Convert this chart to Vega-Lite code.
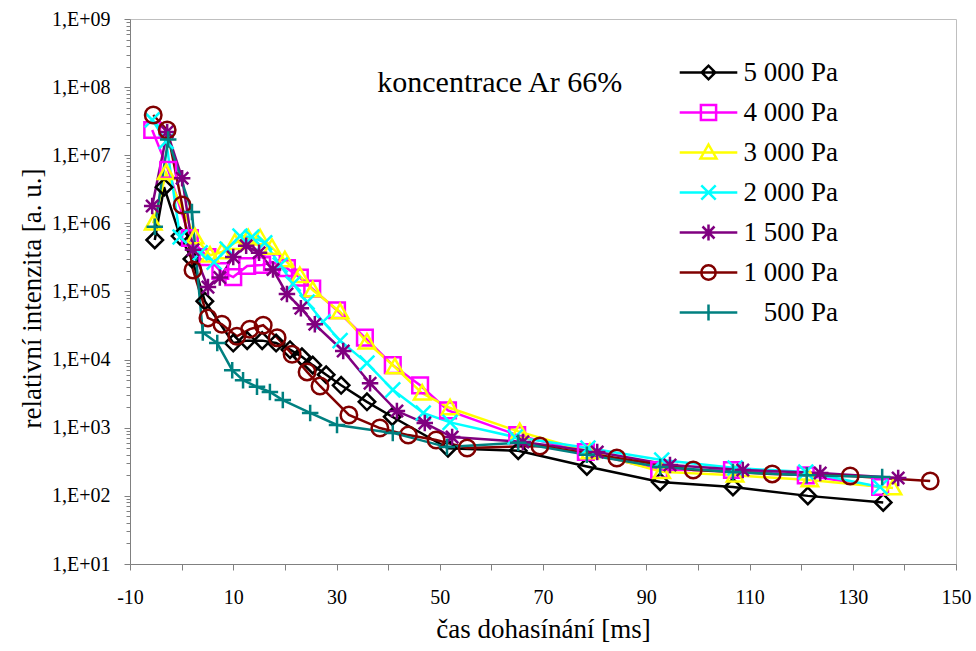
{
  "$schema": "https://vega.github.io/schema/vega-lite/v6.json",
  "width": 826,
  "height": 545,
  "autosize": {"type": "none"},
  "padding": {"left": 130, "top": 19, "right": 20, "bottom": 87},
  "background": "white",
  "config": {
    "font": "Liberation Serif",
    "view": {"stroke": "#bfbfbf", "strokeWidth": 1},
    "axis": {"grid": false, "domainColor": "#808080", "tickColor": "#808080", "labelColor": "#000000", "titleColor": "#000000", "labelFont": "Liberation Serif", "titleFont": "Liberation Serif", "titleFontWeight": "normal"}
  },
  "datasets": {
    "d": [
      {"s": "5 000 Pa", "t": -5.2, "i": 570000},
      {"s": "5 000 Pa", "t": -3.4, "i": 3400000},
      {"s": "5 000 Pa", "t": -0.3, "i": 650000},
      {"s": "5 000 Pa", "t": 2.0, "i": 300000},
      {"s": "5 000 Pa", "t": 4.5, "i": 72000},
      {"s": "5 000 Pa", "t": 10.0, "i": 17500},
      {"s": "5 000 Pa", "t": 12.7, "i": 19000},
      {"s": "5 000 Pa", "t": 15.6, "i": 19000},
      {"s": "5 000 Pa", "t": 18.3, "i": 17500},
      {"s": "5 000 Pa", "t": 21.0, "i": 14000},
      {"s": "5 000 Pa", "t": 23.3, "i": 11000},
      {"s": "5 000 Pa", "t": 25.4, "i": 8300},
      {"s": "5 000 Pa", "t": 28.0, "i": 6000},
      {"s": "5 000 Pa", "t": 30.9, "i": 4200},
      {"s": "5 000 Pa", "t": 35.9, "i": 2400},
      {"s": "5 000 Pa", "t": 40.8, "i": 1450},
      {"s": "5 000 Pa", "t": 51.6, "i": 500},
      {"s": "5 000 Pa", "t": 65.2, "i": 460},
      {"s": "5 000 Pa", "t": 78.5, "i": 270},
      {"s": "5 000 Pa", "t": 92.7, "i": 160},
      {"s": "5 000 Pa", "t": 106.8, "i": 135},
      {"s": "5 000 Pa", "t": 121.3, "i": 100},
      {"s": "5 000 Pa", "t": 135.9, "i": 80},
      {"s": "4 000 Pa", "t": -5.7, "i": 23500000},
      {"s": "4 000 Pa", "t": -2.6, "i": 6100000},
      {"s": "4 000 Pa", "t": 1.6, "i": 610000},
      {"s": "4 000 Pa", "t": 5.0, "i": 320000},
      {"s": "4 000 Pa", "t": 7.5, "i": 200000},
      {"s": "4 000 Pa", "t": 10.0, "i": 163000},
      {"s": "4 000 Pa", "t": 12.7, "i": 237000},
      {"s": "4 000 Pa", "t": 15.6, "i": 245000},
      {"s": "4 000 Pa", "t": 17.5, "i": 270000},
      {"s": "4 000 Pa", "t": 20.4, "i": 220000},
      {"s": "4 000 Pa", "t": 22.9, "i": 160000},
      {"s": "4 000 Pa", "t": 25.3, "i": 110000},
      {"s": "4 000 Pa", "t": 30.1, "i": 53000},
      {"s": "4 000 Pa", "t": 35.5, "i": 21000},
      {"s": "4 000 Pa", "t": 40.9, "i": 8300},
      {"s": "4 000 Pa", "t": 46.2, "i": 4200},
      {"s": "4 000 Pa", "t": 51.6, "i": 1800},
      {"s": "4 000 Pa", "t": 65.0, "i": 780},
      {"s": "4 000 Pa", "t": 78.3, "i": 440},
      {"s": "4 000 Pa", "t": 92.5, "i": 240},
      {"s": "4 000 Pa", "t": 106.6, "i": 240},
      {"s": "4 000 Pa", "t": 120.9, "i": 200},
      {"s": "4 000 Pa", "t": 135.3, "i": 135},
      {"s": "3 000 Pa", "t": -5.5, "i": 1000000},
      {"s": "3 000 Pa", "t": -3.0, "i": 5500000},
      {"s": "3 000 Pa", "t": 2.6, "i": 630000},
      {"s": "3 000 Pa", "t": 5.5, "i": 340000},
      {"s": "3 000 Pa", "t": 7.8, "i": 380000},
      {"s": "3 000 Pa", "t": 10.3, "i": 520000},
      {"s": "3 000 Pa", "t": 12.9, "i": 610000},
      {"s": "3 000 Pa", "t": 15.2, "i": 610000},
      {"s": "3 000 Pa", "t": 17.5, "i": 440000},
      {"s": "3 000 Pa", "t": 20.0, "i": 290000},
      {"s": "3 000 Pa", "t": 22.9, "i": 170000},
      {"s": "3 000 Pa", "t": 25.4, "i": 105000},
      {"s": "3 000 Pa", "t": 30.7, "i": 50000},
      {"s": "3 000 Pa", "t": 35.9, "i": 18000},
      {"s": "3 000 Pa", "t": 41.3, "i": 7800},
      {"s": "3 000 Pa", "t": 46.6, "i": 3200},
      {"s": "3 000 Pa", "t": 52.0, "i": 1950},
      {"s": "3 000 Pa", "t": 65.5, "i": 870},
      {"s": "3 000 Pa", "t": 79.1, "i": 440},
      {"s": "3 000 Pa", "t": 93.0, "i": 225},
      {"s": "3 000 Pa", "t": 107.2, "i": 200},
      {"s": "3 000 Pa", "t": 121.7, "i": 171},
      {"s": "3 000 Pa", "t": 137.8, "i": 130},
      {"s": "2 000 Pa", "t": -5.7, "i": 33000000},
      {"s": "2 000 Pa", "t": -3.0, "i": 16000000},
      {"s": "2 000 Pa", "t": -0.3, "i": 630000},
      {"s": "2 000 Pa", "t": 3.6, "i": 370000},
      {"s": "2 000 Pa", "t": 6.3, "i": 270000},
      {"s": "2 000 Pa", "t": 8.8, "i": 420000},
      {"s": "2 000 Pa", "t": 11.3, "i": 650000},
      {"s": "2 000 Pa", "t": 13.6, "i": 630000},
      {"s": "2 000 Pa", "t": 16.1, "i": 520000},
      {"s": "2 000 Pa", "t": 19.1, "i": 245000},
      {"s": "2 000 Pa", "t": 21.6, "i": 130000},
      {"s": "2 000 Pa", "t": 24.3, "i": 70000},
      {"s": "2 000 Pa", "t": 27.4, "i": 36000},
      {"s": "2 000 Pa", "t": 30.7, "i": 19000},
      {"s": "2 000 Pa", "t": 35.9, "i": 8900},
      {"s": "2 000 Pa", "t": 40.9, "i": 3600},
      {"s": "2 000 Pa", "t": 46.8, "i": 1650},
      {"s": "2 000 Pa", "t": 52.0, "i": 1200},
      {"s": "2 000 Pa", "t": 64.6, "i": 730},
      {"s": "2 000 Pa", "t": 78.7, "i": 505},
      {"s": "2 000 Pa", "t": 93.0, "i": 336},
      {"s": "2 000 Pa", "t": 107.2, "i": 256},
      {"s": "2 000 Pa", "t": 120.9, "i": 224},
      {"s": "2 000 Pa", "t": 135.3, "i": 135},
      {"s": "1 500 Pa", "t": -5.7, "i": 1800000},
      {"s": "1 500 Pa", "t": -2.8, "i": 22000000},
      {"s": "1 500 Pa", "t": 0.1, "i": 4600000},
      {"s": "1 500 Pa", "t": 2.2, "i": 410000},
      {"s": "1 500 Pa", "t": 5.1, "i": 116000},
      {"s": "1 500 Pa", "t": 7.4, "i": 160000},
      {"s": "1 500 Pa", "t": 10.0, "i": 320000},
      {"s": "1 500 Pa", "t": 12.5, "i": 470000},
      {"s": "1 500 Pa", "t": 15.0, "i": 370000},
      {"s": "1 500 Pa", "t": 17.7, "i": 210000},
      {"s": "1 500 Pa", "t": 20.4, "i": 92000},
      {"s": "1 500 Pa", "t": 23.1, "i": 57000},
      {"s": "1 500 Pa", "t": 25.8, "i": 33000},
      {"s": "1 500 Pa", "t": 31.3, "i": 13400},
      {"s": "1 500 Pa", "t": 36.5, "i": 4500},
      {"s": "1 500 Pa", "t": 41.7, "i": 1760},
      {"s": "1 500 Pa", "t": 47.1, "i": 1170},
      {"s": "1 500 Pa", "t": 52.4, "i": 730},
      {"s": "1 500 Pa", "t": 66.1, "i": 620},
      {"s": "1 500 Pa", "t": 80.5, "i": 440},
      {"s": "1 500 Pa", "t": 94.6, "i": 284},
      {"s": "1 500 Pa", "t": 108.7, "i": 240},
      {"s": "1 500 Pa", "t": 123.7, "i": 217},
      {"s": "1 500 Pa", "t": 138.8, "i": 183},
      {"s": "1 000 Pa", "t": -5.5, "i": 39000000},
      {"s": "1 000 Pa", "t": -2.8, "i": 23500000},
      {"s": "1 000 Pa", "t": 0.1, "i": 1860000},
      {"s": "1 000 Pa", "t": 2.2, "i": 207000},
      {"s": "1 000 Pa", "t": 5.1, "i": 41000},
      {"s": "1 000 Pa", "t": 7.8, "i": 33000},
      {"s": "1 000 Pa", "t": 10.7, "i": 22000},
      {"s": "1 000 Pa", "t": 13.2, "i": 28000},
      {"s": "1 000 Pa", "t": 15.8, "i": 32000},
      {"s": "1 000 Pa", "t": 18.5, "i": 21000},
      {"s": "1 000 Pa", "t": 21.4, "i": 12000},
      {"s": "1 000 Pa", "t": 24.3, "i": 6600},
      {"s": "1 000 Pa", "t": 26.8, "i": 4100},
      {"s": "1 000 Pa", "t": 32.4, "i": 1540},
      {"s": "1 000 Pa", "t": 38.4, "i": 990},
      {"s": "1 000 Pa", "t": 43.9, "i": 780},
      {"s": "1 000 Pa", "t": 49.3, "i": 660},
      {"s": "1 000 Pa", "t": 55.3, "i": 505},
      {"s": "1 000 Pa", "t": 69.4, "i": 540},
      {"s": "1 000 Pa", "t": 84.3, "i": 360},
      {"s": "1 000 Pa", "t": 99.1, "i": 240},
      {"s": "1 000 Pa", "t": 114.4, "i": 210},
      {"s": "1 000 Pa", "t": 129.5, "i": 196},
      {"s": "1 000 Pa", "t": 145.0, "i": 165},
      {"s": "500 Pa", "t": -5.2, "i": 890000},
      {"s": "500 Pa", "t": -2.6, "i": 17000000},
      {"s": "500 Pa", "t": 2.0, "i": 1470000},
      {"s": "500 Pa", "t": 4.1, "i": 25000},
      {"s": "500 Pa", "t": 6.9, "i": 17500},
      {"s": "500 Pa", "t": 9.8, "i": 7000},
      {"s": "500 Pa", "t": 11.9, "i": 5000},
      {"s": "500 Pa", "t": 14.6, "i": 4000},
      {"s": "500 Pa", "t": 17.1, "i": 3350},
      {"s": "500 Pa", "t": 19.6, "i": 2550},
      {"s": "500 Pa", "t": 24.9, "i": 1650},
      {"s": "500 Pa", "t": 30.1, "i": 1100},
      {"s": "500 Pa", "t": 40.9, "i": 840},
      {"s": "500 Pa", "t": 51.4, "i": 520},
      {"s": "500 Pa", "t": 65.2, "i": 600},
      {"s": "500 Pa", "t": 78.5, "i": 400},
      {"s": "500 Pa", "t": 92.7, "i": 265},
      {"s": "500 Pa", "t": 106.8, "i": 224},
      {"s": "500 Pa", "t": 121.1, "i": 200},
      {"s": "500 Pa", "t": 135.7, "i": 190}
    ]
  },
  "encoding": {
    "x": {
      "field": "t", "type": "quantitative",
      "scale": {"domain": [-10, 150], "nice": false, "zero": false},
      "axis": {
        "orient": "bottom",
        "values": [-10, 0, 10, 20, 30, 40, 50, 60, 70, 80, 90, 100, 110, 120, 130, 140, 150],
        "labelExpr": "(datum.value + 10) % 20 == 0 ? '' + datum.value : ''",
        "labelFontSize": 20, "tickSize": 6, "labelPadding": 17, "labelOverlap": false, "labelFlush": false,
        "title": "čas dohasínání [ms]", "titleFontSize": 27, "titleBaseline": "alphabetic", "titleY": 73
      }
    },
    "y": {
      "field": "i", "type": "quantitative",
      "scale": {"type": "log", "domain": [10, 1000000000], "nice": false},
      "axis": {
        "orient": "left",
        "values": [10,20,30,40,50,60,70,80,90,100,200,300,400,500,600,700,800,900,1000,2000,3000,4000,5000,6000,7000,8000,9000,10000,20000,30000,40000,50000,60000,70000,80000,90000,100000,200000,300000,400000,500000,600000,700000,800000,900000,1000000,2000000,3000000,4000000,5000000,6000000,7000000,8000000,9000000,10000000,20000000,30000000,40000000,50000000,60000000,70000000,80000000,90000000,100000000,200000000,300000000,400000000,500000000,600000000,700000000,800000000,900000000,1000000000],
        "labelExpr": "abs(log(datum.value) / LN10 - round(log(datum.value) / LN10)) < 0.01 ? '1,E+0' + round(log(datum.value) / LN10) : ''",
        "tickSize": {"condition": {"test": "abs(log(datum.value) / LN10 - round(log(datum.value) / LN10)) < 0.01", "value": 6}, "value": 4},
        "labelFontSize": 20, "labelPadding": 14, "labelOverlap": false, "labelFlush": false,
        "title": "relativní intenzita [a. u.]", "titleFontSize": 27, "titleAngle": -90,
        "titleX": -90, "titleY": 279, "titleAlign": "center", "titleBaseline": "alphabetic"
      }
    }
  },
  "layer": [
    {
      "data": {"name": "d"},
      "mark": {"type": "line", "strokeWidth": 2.5},
      "encoding": {
        "color": {
          "field": "s", "type": "nominal",
          "scale": {
            "domain": ["5 000 Pa", "4 000 Pa", "3 000 Pa", "2 000 Pa", "1 500 Pa", "1 000 Pa", "500 Pa"],
            "range": ["#000000", "#ff00ff", "#ffff00", "#00ffff", "#800080", "#800000", "#008080"]
          },
          "legend": null
        }
      }
    },
    {
      "data": {"name": "d"},
      "mark": {"type": "point", "filled": false, "strokeWidth": 2.5, "size": 272, "opacity": 1},
      "encoding": {
        "color": {
          "field": "s", "type": "nominal",
          "scale": {
            "domain": ["5 000 Pa", "4 000 Pa", "3 000 Pa", "2 000 Pa", "1 500 Pa", "1 000 Pa", "500 Pa"],
            "range": ["#000000", "#ff00ff", "#ffff00", "#00ffff", "#800080", "#800000", "#008080"]
          },
          "legend": null
        },
        "shape": {
          "field": "s", "type": "nominal",
          "scale": {
            "domain": ["5 000 Pa", "4 000 Pa", "3 000 Pa", "2 000 Pa", "1 500 Pa", "1 000 Pa", "500 Pa"],
            "range": [
              "M-1,0L0,-1L1,0L0,1Z",
              "M-0.95,-0.95H0.95V0.95H-0.95Z",
              "M0,-1L1,0.75H-1Z",
              "M-0.9,-0.9L0.9,0.9M-0.9,0.9L0.9,-0.9",
              "M-1,0H1M0,-1V1M-0.75,-0.75L0.75,0.75M-0.75,0.75L0.75,-0.75",
              "M-1,0A1,1 0 1,0 1,0A1,1 0 1,0 -1,0Z",
              "M-1,0H1M0,-1V1"
            ]
          },
          "legend": null
        }
      }
    },
    {
      "data": {"values": []},
      "mark": {"type": "point", "filled": false, "strokeWidth": 2.5, "size": 256, "opacity": 1},
      "encoding": {
        "color": {
          "field": "s", "type": "nominal",
          "scale": {
            "domain": ["5 000 Pa", "4 000 Pa", "3 000 Pa", "2 000 Pa", "1 500 Pa", "1 000 Pa", "500 Pa"],
            "range": ["#000000", "#ff00ff", "#ffff00", "#00ffff", "#800080", "#800000", "#008080"]
          },
          "legend": {
            "orient": "none", "legendX": 565, "legendY": 40, "title": null, "padding": 0,
            "labelFontSize": 27, "labelFont": "Liberation Serif", "labelColor": "#000000", "labelBaseline": "middle",
            "labelAlign": "right", "labelOffset": 116,
            "symbolSize": 256, "symbolStrokeWidth": 2.5, "rowPadding": 12
          }
        },
        "shape": {
          "field": "s", "type": "nominal",
          "scale": {
            "domain": ["5 000 Pa", "4 000 Pa", "3 000 Pa", "2 000 Pa", "1 500 Pa", "1 000 Pa", "500 Pa"],
            "range": [
              "M-3.6,0H3.6M-0.85,0L0,-0.85L0.85,0L0,0.85Z",
              "M-3.6,0H3.6M-0.95,-0.95H0.95V0.95H-0.95Z",
              "M-3.6,0H3.6M0,-1L1,0.75H-1Z",
              "M-3.6,0H3.6M-0.9,-0.9L0.9,0.9M-0.9,0.9L0.9,-0.9",
              "M-3.6,0H3.6M0,-1V1M-0.75,-0.75L0.75,0.75M-0.75,0.75L0.75,-0.75",
              "M-3.6,0H3.6M-0.9,0A0.9,0.9 0 1,0 0.9,0A0.9,0.9 0 1,0 -0.9,0Z",
              "M-3.6,0H3.6M0,-1V1"
            ]
          },
          "legend": {
            "orient": "none", "legendX": 565, "legendY": 40, "title": null, "padding": 0,
            "labelFontSize": 27, "labelFont": "Liberation Serif", "labelColor": "#000000", "labelBaseline": "middle",
            "labelAlign": "right", "labelOffset": 116,
            "symbolSize": 256, "symbolStrokeWidth": 2.5, "rowPadding": 12
          }
        }
      }
    },
    {
      "data": {"values": [{"t": 37.9, "i": 85000000, "label": "koncentrace Ar 66%"}]},
      "mark": {"type": "text", "align": "left", "baseline": "alphabetic", "fontSize": 30, "font": "Liberation Serif", "color": "#000000"},
      "encoding": {
        "text": {"field": "label"}
      }
    }
  ],
  "resolve": {"scale": {"shape": "independent", "color": "independent"}}
}
